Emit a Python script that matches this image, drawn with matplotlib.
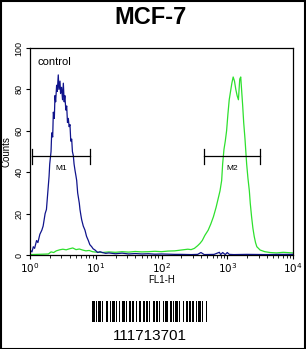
import numpy as np
import matplotlib
matplotlib.use("Agg")
import matplotlib.pyplot as plt
from matplotlib.patches import Rectangle
from matplotlib.ticker import LogLocator, NullFormatter

plt.rcParams['font.family'] = ['Liberation Sans', 'DejaVu Sans']

# ---- data ----
title = "MCF-7"
sample_id = "111713701"

blue_logx = [0.00, 0.03, 0.05, 0.07, 0.10, 0.12, 0.15, 0.18, 0.20, 0.23, 0.25, 0.27,
             0.29, 0.30, 0.32, 0.33, 0.345, 0.355, 0.37, 0.38, 0.39, 0.405, 0.415, 0.43,
             0.44, 0.456, 0.465, 0.48, 0.495, 0.507, 0.52, 0.53, 0.545, 0.558, 0.57, 0.583,
             0.595, 0.608, 0.62, 0.634, 0.645, 0.659, 0.67, 0.684, 0.70, 0.71, 0.725, 0.735,
             0.75, 0.76, 0.775, 0.786, 0.81, 0.836, 0.86, 0.887, 0.91, 0.938, 0.96, 0.989,
             1.03, 1.065, 1.10, 1.15, 1.20, 1.30, 1.40, 1.50, 1.60, 1.70, 1.80, 1.90,
             2.00, 2.10, 2.20, 2.30, 2.45, 2.55, 2.60, 2.65, 2.80, 2.88, 2.90, 2.93,
             2.97, 3.00, 3.03, 3.10, 3.30, 3.60, 3.80, 4.00]
blue_counts = [2.4, 1.5, 4.0, 3.2, 7.0, 6.0, 10.0, 12.0, 14.0, 20.0, 22.0, 30.0,
               38.0, 44.0, 50.0, 59.0, 57.0, 69.0, 66.0, 77.0, 74.0, 82.0, 79.0, 87.0,
               80.0, 84.0, 78.0, 81.0, 75.0, 83.0, 74.0, 77.0, 70.0, 72.0, 64.0, 66.0,
               62.0, 63.0, 55.0, 56.0, 50.0, 48.0, 44.0, 41.0, 38.0, 36.0, 30.0, 28.0,
               25.0, 22.0, 19.0, 17.0, 14.0, 12.0, 9.0, 7.0, 5.0, 4.0, 3.0, 2.4,
               1.2, 1.6, 1.2, 0.8, 1.0, 0.6, 0.9, 0.5, 0.7, 0.5, 0.6, 0.4,
               0.5, 0.4, 0.3, 0.3, 0.2, 0.3, 1.2, 0.2, 0.3, 1.3, 0.2, 1.2,
               0.2, 1.2, 0.3, 0.2, 0.3, 0.2, 0.3, 0.3]

green_logx = [0.00, 0.10, 0.20, 0.28, 0.32, 0.36, 0.40, 0.45, 0.50, 0.55, 0.60, 0.65,
              0.70, 0.75, 0.80, 0.85, 0.90, 0.95, 1.00, 1.10, 1.20, 1.30, 1.40, 1.50,
              1.60, 1.70, 1.80, 1.90, 2.00, 2.10, 2.20, 2.30, 2.40, 2.45, 2.50, 2.55,
              2.585, 2.62, 2.66, 2.71, 2.75, 2.79, 2.83, 2.86, 2.89, 2.915, 2.93, 2.95,
              2.97, 2.99, 3.01, 3.03, 3.05, 3.07, 3.09, 3.11, 3.13, 3.15, 3.17, 3.19,
              3.205, 3.22, 3.235, 3.25, 3.27, 3.295, 3.315, 3.336, 3.35, 3.37, 3.39, 3.41,
              3.43, 3.45, 3.50, 3.57, 3.65, 3.75, 3.85, 3.95, 4.00]
green_counts = [0.2, 0.3, 0.4, 0.5, 1.5, 1.2, 2.0, 2.5, 2.8, 2.5, 3.0, 3.4,
                2.6, 2.9, 2.4, 2.0, 2.2, 1.6, 1.4, 1.2, 1.5, 1.3, 1.6, 1.4,
                1.7, 1.5, 1.6, 1.8, 1.6, 1.9, 2.0, 2.4, 2.8, 2.6, 3.2, 4.5,
                5.6, 7.0, 9.5, 12.0, 15.0, 18.5, 23.0, 27.0, 31.0, 36.0, 44.0, 51.0,
                55.0, 60.0, 68.0, 75.0, 79.0, 83.0, 86.0, 84.0, 80.0, 77.0, 75.0, 85.0,
                86.0, 79.0, 72.0, 64.0, 56.0, 44.0, 37.0, 31.0, 25.0, 18.5, 13.0, 9.0,
                6.0, 4.0, 2.4, 1.6, 1.2, 1.0, 1.3, 1.1, 1.0]

m1_range = [1.08, 8.2]
m2_range = [447.0, 3170.0]
marker_level = 47.6
marker_labels = ["M1", "M2"]

y_ticks = [0, 20, 40, 60, 80, 100]
x_ticks = [1, 10, 100, 1000, 10000]
x_ticklabels = [r"$10^0$", r"$10^1$", r"$10^2$", r"$10^3$", r"$10^4$"]

barcode_widths = [2, 1, 1, 1, 2, 1, 1, 2, 2, 1, 1, 1, 2, 1, 1, 1, 1, 2, 2, 1,
                  1, 1, 2, 1, 1, 2, 1, 1, 2, 1, 2, 1, 1, 1, 1, 2, 2, 1, 1, 1,
                  1, 2, 1, 1, 2, 2, 1, 1, 1, 1, 2, 1, 1, 2, 1, 1, 2, 1, 1, 1,
                  2, 1, 1, 1, 2, 1, 1, 2, 1]

# ---- figure ----
W, H = 306, 349
fig = plt.figure(figsize=(W / 100, H / 100), dpi=100)
fig.patch.set_facecolor('white')
fig.patches.append(Rectangle((0.5 / W, 0.5 / H), 1 - 1.5 / W, 1 - 1.5 / H,
                             transform=fig.transFigure, fill=False,
                             edgecolor='black', linewidth=1.5))

fig.text(150 / W, 1 - 17 / H, title, ha='center', va='center',
         fontsize=17, fontweight='bold')

ax = fig.add_axes([30 / W, 1 - 255 / H, 263 / W, 207 / H])
bx = np.power(10.0, blue_logx)
gx = np.power(10.0, green_logx)
ax.plot(gx, green_counts, color='#2ee02e', lw=0.9)
ax.plot(bx, blue_counts, color='#10148c', lw=0.9)

ax.set_xscale('log')
ax.set_xlim(1, 10000)
ax.set_ylim(0, 100)
ax.set_xticks(x_ticks)
ax.set_xticklabels(x_ticklabels, fontsize=7.5)
ax.xaxis.set_minor_locator(LogLocator(base=10, subs=np.arange(2, 10)))
ax.xaxis.set_minor_formatter(NullFormatter())
ax.set_yticks(y_ticks)
ax.set_yticklabels([str(v) for v in y_ticks], fontsize=6.5, rotation=90, va='center')
ax.tick_params(axis='both', direction='out', length=3, width=0.8, pad=1.5)
ax.tick_params(axis='x', which='minor', length=2, width=0.6)
ax.set_xlabel("FL1-H", fontsize=7, labelpad=0)
ax.set_ylabel("Counts", fontsize=7, labelpad=2)
for s in ax.spines.values():
    s.set_linewidth(0.9)

# markers
for (lo, hi), lab in zip([m1_range, m2_range], marker_labels):
    ax.plot([lo, hi], [marker_level, marker_level], color='black', lw=0.9)
    ax.plot([lo, lo], [marker_level - 3.5, marker_level + 3.5], color='black', lw=0.9)
    ax.plot([hi, hi], [marker_level - 3.5, marker_level + 3.5], color='black', lw=0.9)
    ax.text(np.sqrt(lo * hi), marker_level - 6, lab, ha='center', va='center',
            fontsize=6)

ax.text(1.3, 93, "control", fontsize=8, ha='left', va='center')

# barcode
bax = fig.add_axes([92 / W, 1 - 322 / H, 115 / W, 21 / H])
pos = 0
for i, w in enumerate(barcode_widths):
    if i % 2 == 0:
        bax.bar(pos, 1, width=w, align='edge', color='black', linewidth=0)
    pos += w
bax.set_xlim(0, pos)
bax.set_ylim(0, 1)
bax.axis('off')

fig.text(150 / W, 1 - 339.5 / H, sample_id, ha='center', va='baseline', fontsize=11)

fig.savefig("out.png", dpi=100)
